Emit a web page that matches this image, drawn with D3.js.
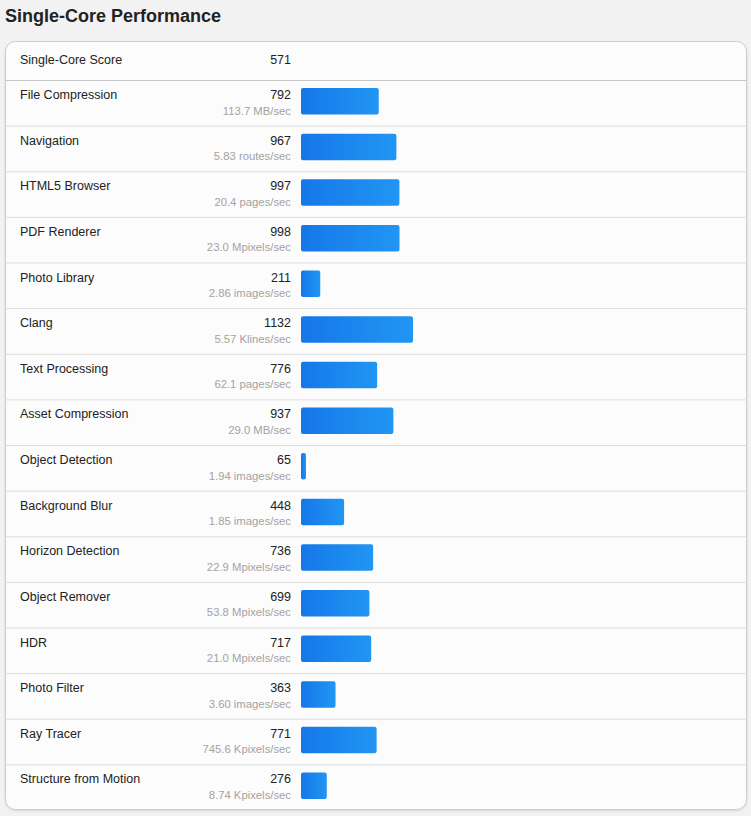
<!DOCTYPE html>
<html><head><meta charset="utf-8">
<script src="https://cdn.jsdelivr.net/npm/d3@7"></script>
<style>
html,body{margin:0;padding:0;background:#f2f2f2;}
svg{display:block;font-family:Arial,"Liberation Sans",sans-serif;}
</style></head>
<body><svg id="c" width="751" height="816"></svg>
<script>
const title = "Single-Core Performance";
const headerLabel = "Single-Core Score";
const headerScore = 571;
const workloads = ["File Compression","Navigation","HTML5 Browser","PDF Renderer","Photo Library","Clang","Text Processing","Asset Compression","Object Detection","Background Blur","Horizon Detection","Object Remover","HDR","Photo Filter","Ray Tracer","Structure from Motion"];
const scores = [792,967,997,998,211,1132,776,937,65,448,736,699,717,363,771,276];
const rates = ["113.7 MB/sec","5.83 routes/sec","20.4 pages/sec","23.0 Mpixels/sec","2.86 images/sec","5.57 Klines/sec","62.1 pages/sec","29.0 MB/sec","1.94 images/sec","1.85 images/sec","22.9 Mpixels/sec","53.8 Mpixels/sec","21.0 Mpixels/sec","3.60 images/sec","745.6 Kpixels/sec","8.74 Kpixels/sec"];

const svg = d3.select("#c");
const card = {x0:5.5, x1:746.5, y0:41.5, y1:809.5, header:80};

const defs = svg.append("defs");
const g = defs.append("linearGradient").attr("id","bar").attr("x1","0%").attr("x2","100%");
g.append("stop").attr("offset","0%").attr("stop-color","#1577e9");
g.append("stop").attr("offset","100%").attr("stop-color","#2196f3");
const f = defs.append("filter").attr("id","sh").attr("x","-5%").attr("y","-5%").attr("width","110%").attr("height","110%");
f.append("feDropShadow").attr("dx",0).attr("dy",1).attr("stdDeviation",1).attr("flood-color","#000").attr("flood-opacity",0.12);

svg.append("text").attr("x",5).attr("y",22).attr("font-size",18).attr("font-weight","bold").attr("fill","#222").text(title);

svg.append("rect").attr("x",card.x0).attr("y",card.y0).attr("width",card.x1-card.x0).attr("height",card.y1-card.y0)
  .attr("rx",10).attr("fill","#fcfcfc").attr("stroke","#cccccc").attr("filter","url(#sh)");

// header
svg.append("text").attr("x",20).attr("y",63.5).attr("font-size",12.5).attr("fill","#222").text(headerLabel);
svg.append("text").attr("x",291).attr("y",63.5).attr("font-size",12.5).attr("fill","#222").attr("text-anchor","end").text(headerScore);
svg.append("line").attr("x1",card.x0).attr("x2",card.x1).attr("y1",card.header+0.5).attr("y2",card.header+0.5).attr("stroke","#c8c8c8");

const y = d3.scaleBand().domain(workloads).range([card.header, 810]);
const x = d3.scaleLinear().domain([20,1132]).range([0,112]);

const rows = svg.selectAll("g.row").data(workloads).join("g").attr("class","row")
  .attr("transform", d => `translate(0,${y(d)})`);

rows.filter((d,i)=>i>0).append("line").attr("x1",card.x0).attr("x2",card.x1).attr("y1",0.5).attr("y2",0.5).attr("stroke","#dddddd");
rows.append("text").attr("x",20).attr("y",19).attr("font-size",12.5).attr("fill","#222").text(d=>d);
rows.append("text").attr("x",291).attr("y",19).attr("font-size",12.5).attr("fill","#222").attr("text-anchor","end").text((d,i)=>scores[i]);
rows.append("text").attr("x",291).attr("y",34.5).attr("font-size",11.3).attr("fill","#a3a3a3").attr("text-anchor","end").text((d,i)=>rates[i]);
rows.append("rect").attr("x",301).attr("y",8).attr("height",26.5).attr("rx",2)
  .attr("width",(d,i)=>Math.max(5, x(scores[i]))).attr("fill","url(#bar)");
</script></body></html>
